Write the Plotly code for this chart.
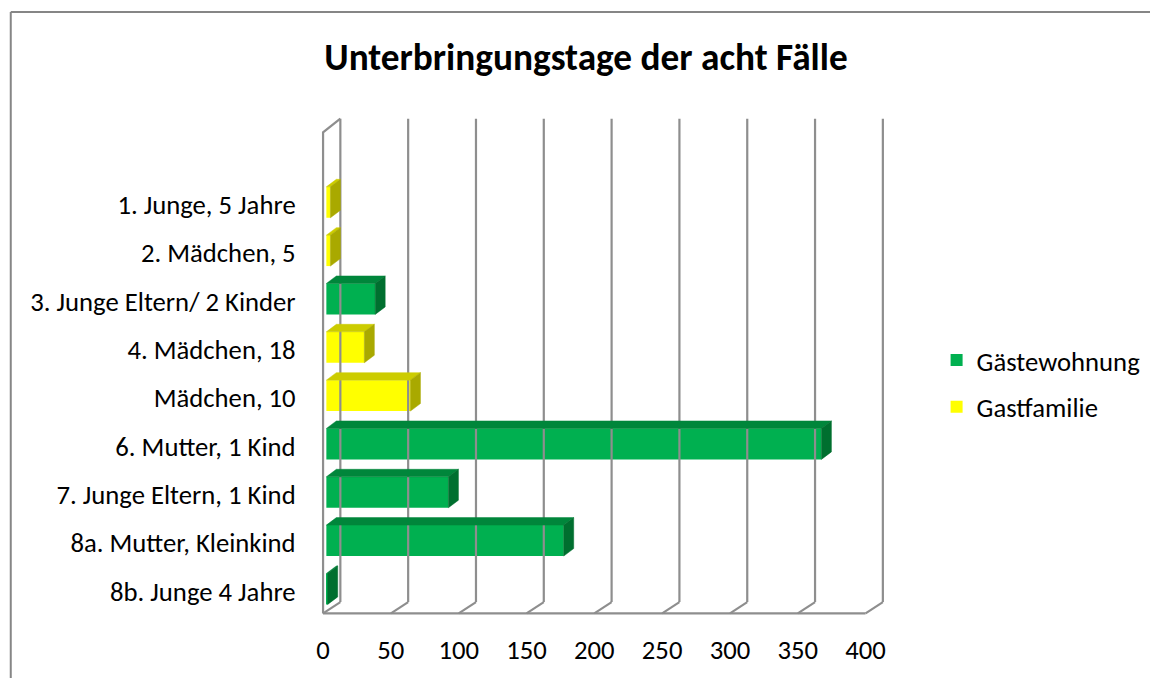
import plotly.graph_objects as go

# ---------------- data ----------------
categories = [
    "1. Junge, 5 Jahre",
    "2. Mädchen, 5",
    "3. Junge Eltern/ 2 Kinder",
    "4. Mädchen, 18",
    "Mädchen, 10",
    "6. Mutter, 1 Kind",
    "7. Junge Eltern, 1 Kind",
    "8a. Mutter, Kleinkind",
    "8b. Junge 4 Jahre",
]
gaestewohnung = [None, None, 36, None, None, 365, 90, 175, 1]
gastfamilie = [3, 3, None, 28, 62, None, None, None, None]
x_ticks = [0, 50, 100, 150, 200, 250, 300, 350, 400]

title_text = "Unterbringungstage der acht Fälle"
series_names = ["Gästewohnung", "Gastfamilie"]

# ---------------- style / geometry ----------------
FONT = "Carlito, Calibri, Lato"
FS = 26.7
FS_TITLE = 37.3
GREEN = ("#00B050", "#00863B", "#006F2F")   # front, top, side
YELLOW = ("#FFFF00", "#CCCC00", "#A9A900")
GRID = "#8E8E8E"

OFF = 8                 # page body margin
W_FIG, H_FIG = 1158 - OFF, 678 - OFF
PXU_X = 1.358           # pixels per day
PXU_Y = 48.3            # pixels per category row
X0_PX = 322.7 - OFF     # pixel of value 0 on front plane (figure coords)
FLOOR_PX = 613.0 - OFF  # pixel of front floor edge
X_RANGE = [-3, 418]
Y_FLOOR = -0.455
Y_TOP = 9.5
Y_RANGE = [-0.55, 9.92]

WALL_DX = 17.3 / PXU_X
WALL_DY_BOT = 11.3 / PXU_Y
WALL_DY_TOP = 13.6 / PXU_Y

BAR_W = 0.64
BAR_SHIFT = 3.3 / PXU_X
BAR_LIFT = 2.5 / PXU_Y
BAR_DX = 10.0 / PXU_X
BAR_DY = 7.5 / PXU_Y

n = len(categories)
ypos = [n - 1 - i for i in range(n)]

m_l = X0_PX + X_RANGE[0] * PXU_X
plot_w = (X_RANGE[1] - X_RANGE[0]) * PXU_X
m_r = W_FIG - m_l - plot_w
bottom_px = FLOOR_PX + (Y_FLOOR - Y_RANGE[0]) * PXU_Y
m_b = H_FIG - bottom_px
plot_h = (Y_RANGE[1] - Y_RANGE[0]) * PXU_Y
m_t = H_FIG - m_b - plot_h


def px_to_paper_x(px):
    return (px - OFF - m_l) / plot_w


def px_to_paper_y(py):
    return (H_FIG - m_b - (py - OFF)) / plot_h


fig = go.Figure()

# ---------------- walls ----------------
wx, wy = [], []
xmax = x_ticks[-1]
for t in x_ticks:
    wx += [t + WALL_DX, t + WALL_DX, None]
    wy += [Y_FLOOR + WALL_DY_BOT, Y_TOP + WALL_DY_TOP, None]
    wx += [t, t + WALL_DX, None]
    wy += [Y_FLOOR, Y_FLOOR + WALL_DY_BOT, None]
wx += [0, xmax, None]
wy += [Y_FLOOR, Y_FLOOR, None]
wx += [0, 0, WALL_DX, None]
wy += [Y_FLOOR, Y_TOP, Y_TOP + WALL_DY_TOP, None]
fig.add_trace(go.Scatter(x=wx, y=wy, mode="lines", line=dict(color=GRID, width=2.2),
                         hoverinfo="skip", showlegend=False))


# ---------------- bars ----------------
def add_series(values, name, cols, group):
    ys = [y + BAR_LIFT for y, v in zip(ypos, values) if v is not None]
    xs = [v for v in values if v is not None]
    tx, ty, sx, sy = [], [], [], []
    for y, v in zip(ys, xs):
        x0, x1 = BAR_SHIFT, BAR_SHIFT + v
        yb, yt = y - BAR_W / 2, y + BAR_W / 2
        tx += [x0, x1, x1 + BAR_DX, x0 + BAR_DX, x0, None]
        ty += [yt, yt, yt + BAR_DY, yt + BAR_DY, yt, None]
        sx += [x1, x1 + BAR_DX, x1 + BAR_DX, x1, x1, None]
        sy += [yb, yb + BAR_DY, yt + BAR_DY, yt, yb, None]
    fig.add_trace(go.Scatter(x=tx, y=ty, mode="lines", fill="toself", fillcolor=cols[1],
                             line=dict(color=cols[1], width=0.5), hoverinfo="skip",
                             showlegend=False))
    fig.add_trace(go.Scatter(x=sx, y=sy, mode="lines", fill="toself", fillcolor=cols[2],
                             line=dict(color=cols[2], width=0.5), hoverinfo="skip",
                             showlegend=False))
    fig.add_trace(go.Bar(x=xs, y=ys, base=BAR_SHIFT, orientation="h", width=BAR_W,
                         name=name, legendgroup=group,
                         marker=dict(color=cols[0], line=dict(width=0))))


add_series(gaestewohnung, series_names[0], GREEN, "g")
add_series(gastfamilie, series_names[1], YELLOW, "f")

# ---------------- layout ----------------
fig.update_layout(
    width=W_FIG, height=H_FIG,
    margin=dict(l=m_l, r=m_r, t=m_t, b=m_b, autoexpand=False),
    paper_bgcolor="white", plot_bgcolor="white",
    barmode="overlay",
    font=dict(family=FONT, size=FS, color="#000000"),
    title=dict(text="<b>" + title_text + "</b>", x=(586 - OFF) / W_FIG, xref="container",
               xanchor="center", y=1 - (57 - OFF) / H_FIG, yanchor="middle", yref="container",
               font=dict(family=FONT, size=FS_TITLE, color="#000000")),
    xaxis=dict(range=X_RANGE, tickvals=x_ticks, ticktext=[str(t) for t in x_ticks],
               showgrid=False, zeroline=False, showline=False,
               ticks="outside", ticklen=8, tickcolor="rgba(0,0,0,0)",
               tickfont=dict(family=FONT, size=FS)),
    yaxis=dict(range=Y_RANGE, tickvals=ypos, ticktext=categories,
               showgrid=False, zeroline=False, showline=False,
               ticks="outside", ticklen=17, tickcolor="rgba(0,0,0,0)",
               tickfont=dict(family=FONT, size=FS)),
    legend=dict(x=px_to_paper_x(937), xanchor="left",
                y=px_to_paper_y(336), yanchor="top",
                traceorder="grouped", tracegroupgap=9,
                font=dict(family=FONT, size=FS), bgcolor="rgba(0,0,0,0)"),
    showlegend=True,
)

# chart border (top and left edges visible in the crop)
fig.add_shape(type="line", xref="paper", yref="paper",
              x0=px_to_paper_x(10), x1=px_to_paper_x(1170),
              y0=px_to_paper_y(12), y1=px_to_paper_y(12),
              line=dict(color="#868686", width=2))
fig.add_shape(type="line", xref="paper", yref="paper",
              x0=px_to_paper_x(10), x1=px_to_paper_x(10),
              y0=px_to_paper_y(12), y1=px_to_paper_y(690),
              line=dict(color="#868686", width=2))

fig.write_html("out.html")
